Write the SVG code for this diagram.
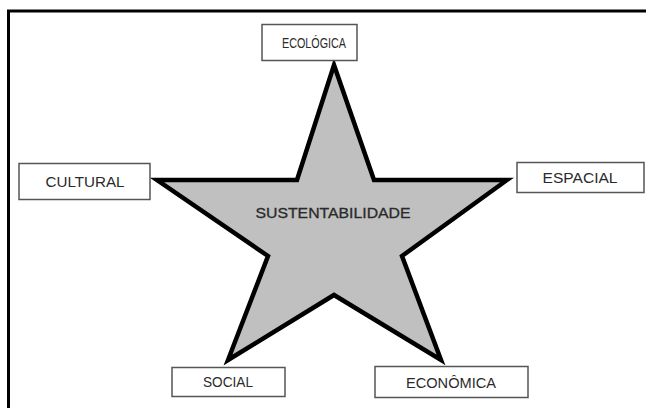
<svg xmlns="http://www.w3.org/2000/svg" width="647" height="408" viewBox="0 0 647 408">
<style>
.box{fill:#fff;stroke:#555;stroke-width:1.5}
.lbl{font-family:"Liberation Sans",Arial,sans-serif;font-size:14px;fill:#2a2a2a;text-anchor:middle}
.star{fill:#c0c0c0;stroke:#000;stroke-width:4.5;stroke-linejoin:miter}
</style>
<rect width="647" height="408" fill="#fff"/>
<g id="frame">
<line x1="7" y1="11" x2="646" y2="11" stroke="#000" stroke-width="3"/>
<line x1="8.5" y1="10" x2="8.5" y2="408" stroke="#000" stroke-width="3"/>
</g>
<g id="sustentabilidade">
<polygon class="star" points="334,65 374,180 507,180 402,256 441,360 334,295 228,360 268,256 157,180 297,180"/>
<text class="lbl" x="333" y="218" font-size="15" stroke="#2a2a2a" stroke-width="0.3" textLength="155" lengthAdjust="spacingAndGlyphs">SUSTENTABILIDADE</text>
</g>
<g id="ecologica">
<rect class="box" x="262" y="24.5" width="95" height="36"/>
<text class="lbl" x="314" y="48" textLength="64" lengthAdjust="spacingAndGlyphs">ECOLÓGICA</text>
</g>
<g id="cultural">
<rect class="box" x="19" y="163.5" width="131" height="36"/>
<text class="lbl" x="85" y="187" textLength="79" lengthAdjust="spacingAndGlyphs">CULTURAL</text>
</g>
<g id="espacial">
<rect class="box" x="517" y="162.5" width="127" height="30"/>
<text class="lbl" x="580" y="183" textLength="75" lengthAdjust="spacingAndGlyphs">ESPACIAL</text>
</g>
<g id="social">
<rect class="box" x="172" y="367.5" width="113" height="29"/>
<text class="lbl" x="228" y="387" textLength="50" lengthAdjust="spacingAndGlyphs">SOCIAL</text>
</g>
<g id="economica">
<rect class="box" x="375" y="366.5" width="153" height="31"/>
<text class="lbl" x="451" y="388" textLength="90" lengthAdjust="spacingAndGlyphs">ECONÔMICA</text>
</g>
</svg>
